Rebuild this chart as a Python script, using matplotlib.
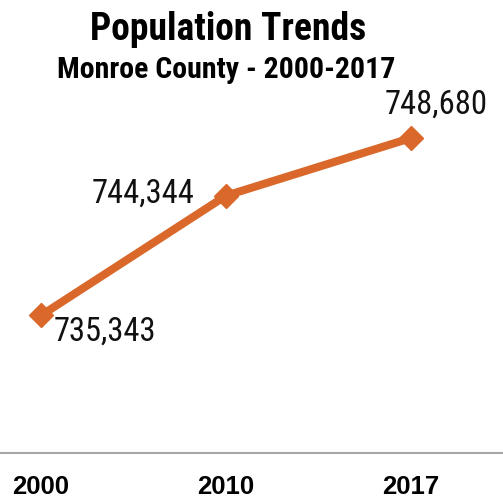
import matplotlib
matplotlib.use("Agg")
import matplotlib.pyplot as plt

# population figures for Monroe County
years = ["2000", "2010", "2017"]
population = [735343, 744344, 748680]
label_text = ["735,343", "744,344", "748,680"]

COND = "Roboto Condensed"
LINE_COLOR = "#D9682A"

fig = plt.figure(figsize=(5.03, 5.04), dpi=100)
ax = fig.add_axes([0.0, 0.1012, 1.0, 0.7917])

x = list(range(len(years)))
ax.plot(x, population, color=LINE_COLOR, lw=5.8, marker="D", markersize=12.5,
        solid_joinstyle="miter", zorder=3)

ax.set_xlim(-41 / 185, 2 + 92 / 185)
ax.set_ylim(725000, 755000)

# value labels around each point
offsets = [(46, -12, "center"), (-23, 1.5, "right"), (18, 24, "center")]
for xi, val, txt, (dx, dy, ha) in zip(x, population, label_text, offsets):
    ax.annotate(txt, (xi, val), xytext=(dx, dy), textcoords="offset points",
                ha=ha, va="center", fontsize=23.5, family=COND, color="#111111")

ax.set_xticks(x)
ax.set_xticklabels(years, fontsize=18.5, fontweight="bold", family="Liberation Sans")
ax.tick_params(axis="x", length=0, pad=16)
ax.set_yticks([])
for s in ["left", "right", "top"]:
    ax.spines[s].set_visible(False)
ax.spines["bottom"].set_color("#A6A6A6")
ax.spines["bottom"].set_linewidth(1.5)

fig.text(0.453, 0.942, "Population Trends", ha="center", va="center",
         fontsize=27, fontweight="bold", family=COND)
fig.text(0.449, 0.861, "Monroe County - 2000-2017", ha="center", va="center",
         fontsize=21.5, fontweight="bold", family=COND)

fig.savefig("out.png", dpi=100)
